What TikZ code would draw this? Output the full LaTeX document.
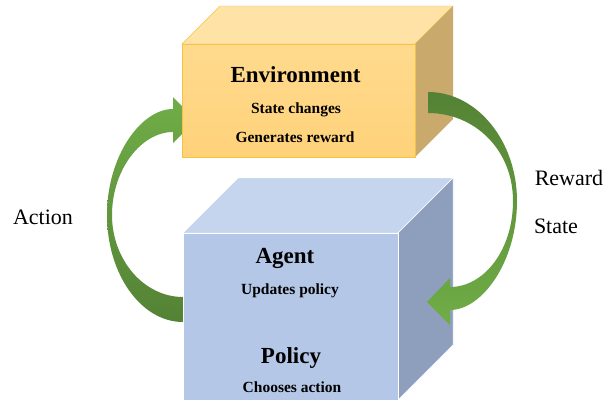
\documentclass[tikz,border=0pt]{standalone}
\usepackage{fontspec}
\setmainfont{Liberation Serif}
\usetikzlibrary{positioning}
\definecolor{arrlight}{HTML}{70AD47}
\definecolor{arrdark}{HTML}{548235}
\definecolor{envtop}{HTML}{FFE2A6}
\definecolor{envfronttop}{HTML}{FFDA8E}
\definecolor{envfront}{HTML}{FFD27A}
\definecolor{envside}{HTML}{C9A96C}
\definecolor{envline}{HTML}{F5C342}
\definecolor{agtop}{HTML}{C5D5EE}
\definecolor{agfront}{HTML}{B4C7E7}
\definecolor{agside}{HTML}{8E9FBD}
\begin{document}
\begin{tikzpicture}[x=1pt, y=-1pt,
      head/.style = {font=\bfseries\fontsize{23}{26}\selectfont, anchor=base},
       sub/.style = {font=\bfseries\fontsize{15.5}{18}\selectfont, anchor=base},
       lbl/.style = {font=\fontsize{22}{26}\selectfont, anchor=base}
                    ]
\useasboundingbox (0,0) rectangle (608,402);
% action arrow
\shade[top color=arrlight, bottom color=arrdark]
  (183,322) .. controls (141,322) and (107,274) .. (107,215)
  .. controls (107,156) and (141,109) .. (173,109)
  -- (173,97) -- (196,120) -- (173,143) -- (173,132)
  .. controls (141,132) and (112,170) .. (112,215)
  .. controls (112,260) and (144,297) .. (183,297) -- cycle;
% environment
\path[fill=envtop, draw=envline] (182,44) -- (220,6) -- (453,6) -- (415,44) -- cycle;
\path[fill=envside] (415,44) -- (453,6) -- (453,119) -- (415,157) -- cycle;
\shade[top color=envfronttop, bottom color=envfront] (182,44) rectangle (415,157);
\draw[envline] (182,44) rectangle (415,157);
% agent
\path[fill=agtop, draw=white] (183,233) -- (238,178) -- (453,178) -- (398,233) -- cycle;
\path[fill=agside, draw=white] (398,233) -- (453,178) -- (453,345) -- (398,400) -- cycle;
\path[fill=agfront, draw=white] (183,233) rectangle (398,400);
% reward / state arrow
\shade[top color=arrdark, bottom color=arrlight]
  (428,92) .. controls (477,92) and (517,141) .. (517,201)
  .. controls (517,262) and (482,310) .. (450,310)
  -- (450,325) -- (427,302) -- (450,278) -- (450,287)
  .. controls (484,287) and (513,250) .. (513,201)
  .. controls (513,150) and (475,113) .. (428,113) -- cycle;
% texts
\node (env)   [head] at (295.5,82) {Environment};
\node (envA)  [sub]  at (296,113)  {State changes};
\node (envB)  [sub]  at (295,142)  {Generates reward};
\node (agent) [head] at (285,263)  {Agent};
\node (agA)   [sub]  at (290,294)  {Updates policy};
\node (pol)   [head] at (291,363)  {Policy};
\node (polA)  [sub]  at (292,392)  {Chooses action};
\node (act)   [lbl]  at (43,224)   {Action};
\node (rew)   [lbl]  at (569,185)  {Reward};
\node (st)    [lbl]  at (556,233)  {State};
\end{tikzpicture}
\end{document}
